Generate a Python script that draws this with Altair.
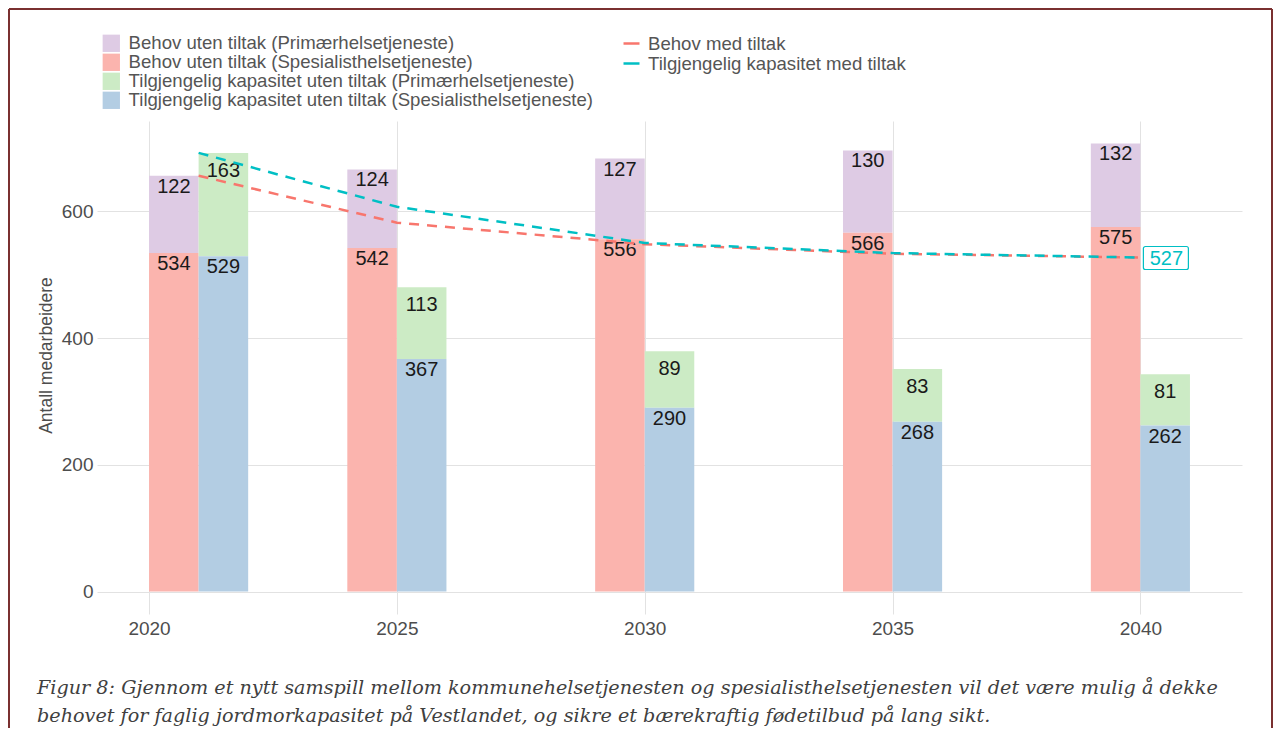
import altair as alt
import pandas as pd

# ---- data ----
years = [2021, 2025, 2030, 2035, 2040]
tick_years = [2020, 2025, 2030, 2035, 2040]
behov_prim = [122, 124, 127, 130, 132]
behov_spes = [534, 542, 556, 566, 575]
kap_prim = [163, 113, 89, 83, 81]
kap_spes = [529, 367, 290, 268, 262]
behov_med = [656, 582, 548, 533, 527]
kap_med = [692, 607, 550, 534, 527]

cat_names = [
    "Behov uten tiltak (Primærhelsetjeneste)",
    "Behov uten tiltak (Spesialisthelsetjeneste)",
    "Tilgjengelig kapasitet uten tiltak (Primærhelsetjeneste)",
    "Tilgjengelig kapasitet uten tiltak (Spesialisthelsetjeneste)",
]
cat_colors = ["#DECBE4", "#FBB4AE", "#CCEBC5", "#B3CDE3"]
line_names = ["Behov med tiltak", "Tilgjengelig kapasitet med tiltak"]
line_colors = ["#F8766D", "#00BFC4"]
y_ticks = [0, 200, 400, 600]
y_title = "Antall medarbeidere"
caption_lines = [
    "Figur 8: Gjennom et nytt samspill mellom kommunehelsetjenesten og spesialisthelsetjenesten vil det være mulig å dekke",
    "behovet for faglig jordmorkapasitet på Vestlandet, og sikre et bærekraftig fødetilbud på lang sikt.",
]

# ---- tables built from the arrays ----
rows = []
series = [
    (cat_names[0], 0, 1, behov_prim),
    (cat_names[1], 0, 0, behov_spes),
    (cat_names[2], 1, 1, kap_prim),
    (cat_names[3], 1, 0, kap_spes),
]
for name, side, order, vals in series:
    for yr, v in zip(years, vals):
        rows.append({"year": yr, "cat": name, "side": side, "order": order,
                     "value": v, "x0": yr - 1 + side, "x1": yr + side,
                     "xc": yr - 0.5 + side, "green": name == cat_names[2]})
bars_df = pd.DataFrame(rows)

line_rows = []
for name, vals in zip(line_names, [behov_med, kap_med]):
    for yr, v in zip(years, vals):
        line_rows.append({"year": yr, "series": name, "value": v})
lines_df = pd.DataFrame(line_rows)
end_df = lines_df[(lines_df.series == line_names[1]) & (lines_df.year == years[-1])]

one = pd.DataFrame({"k": [0]})

W, H = 1145, 493
FONT = "Liberation Sans"
xs = alt.Scale(domain=[2018.95, 2042.05], nice=False, zero=False)
ys = alt.Scale(domain=[-35.35, 742.35], nice=False, zero=False)

x_axis = alt.Axis(values=tick_years, format="d", grid=True, gridColor="#e2e2e2",
                  ticks=False, domain=False, labelFontSize=19, labelColor="#4d4d4d",
                  labelFont=FONT, labelPadding=5, title=None)
y_axis = alt.Axis(values=y_ticks, format="d", grid=True, gridColor="#e2e2e2",
                  ticks=False, domain=False, labelFontSize=19, labelColor="#4d4d4d",
                  labelFont=FONT, labelPadding=4, title=y_title, titleFont=FONT,
                  titleFontSize=17.5, titleFontWeight="normal", titleColor="#4d4d4d",
                  titleX=-42, titleY=234)

stacked = alt.Chart(bars_df).transform_stack(
    stack="value", as_=["y0", "y1"], groupby=["year", "side"],
    sort=[alt.SortField("order", order="ascending")]
)

bars = stacked.mark_rect().encode(
    x=alt.X("x0:Q", scale=xs, axis=x_axis),
    x2="x1:Q",
    y=alt.Y("y0:Q", scale=ys, axis=y_axis),
    y2="y1:Q",
    fill=alt.Fill("cat:N", scale=alt.Scale(domain=cat_names, range=cat_colors),
                  legend=alt.Legend(title=None, orient="none", legendX=5, legendY=-87,
                                    symbolType="square", symbolSize=300,
                                    symbolStrokeWidth=0, labelFontSize=18.6,
                                    labelColor="#555555", labelFont=FONT,
                                    labelLimit=800, rowPadding=0, labelOffset=8,
                                    padding=0)),
)

labels_main = stacked.transform_filter("!datum.green").mark_text(
    baseline="top", dy=1, fontSize=20, font=FONT, color="#1a1a1a"
).encode(x=alt.X("xc:Q", scale=xs), y=alt.Y("y1:Q", scale=ys), text="value:Q")

labels_green = stacked.transform_filter("datum.green").mark_text(
    baseline="top", dy=8, fontSize=20, font=FONT, color="#1a1a1a"
).encode(x=alt.X("xc:Q", scale=xs), y=alt.Y("y1:Q", scale=ys), text="value:Q")

lines = alt.Chart(lines_df).mark_line(strokeDash=[10, 8], strokeWidth=2.5).encode(
    x=alt.X("year:Q", scale=xs),
    y=alt.Y("value:Q", scale=ys),
    stroke=alt.Stroke("series:N", scale=alt.Scale(domain=line_names, range=line_colors),
                      legend=alt.Legend(title=None, orient="none", legendX=525, legendY=-87,
                                        symbolType="stroke", symbolSize=256,
                                        symbolStrokeWidth=2.5, symbolDash=[40, 1],
                                        labelFontSize=18.6, labelColor="#555555",
                                        labelFont=FONT, labelLimit=800, rowPadding=0,
                                        labelOffset=7, padding=0)),
)

end_box = alt.Chart(end_df).mark_rect(
    fill="white", stroke=line_colors[1], strokeWidth=1.2, cornerRadius=2,
    xOffset=3, x2Offset=48, yOffset=-11, y2Offset=12
).encode(x=alt.X("year:Q", scale=xs), x2="year:Q",
         y=alt.Y("value:Q", scale=ys), y2="value:Q")

end_label = alt.Chart(end_df).mark_text(
    align="center", baseline="middle", dx=26, dy=1, fontSize=20, font=FONT,
    color=line_colors[1]
).encode(x=alt.X("year:Q", scale=xs), y=alt.Y("value:Q", scale=ys), text="value:Q")

frame_color = "#7a3030"
frame_left = alt.Chart(one).mark_rule(color=frame_color, strokeWidth=2).encode(
    x=alt.value(-88), y=alt.value(-112), y2=alt.value(607))
frame_top = alt.Chart(one).mark_rule(color=frame_color, strokeWidth=2).encode(
    x=alt.value(-88), x2=alt.value(1175), y=alt.value(-112))
frame_right = alt.Chart(one).mark_rule(color=frame_color, strokeWidth=2).encode(
    x=alt.value(1175), y=alt.value(-112), y2=alt.value(607))

cap1 = alt.Chart(one).mark_text(
    align="left", baseline="alphabetic", font="DejaVu Serif", fontStyle="italic",
    fontSize=19.2, color="#404040"
).encode(x=alt.value(-60), y=alt.value(573), text=alt.value(caption_lines[0]))
cap2 = alt.Chart(one).mark_text(
    align="left", baseline="alphabetic", font="DejaVu Serif", fontStyle="italic",
    fontSize=19.2, color="#404040"
).encode(x=alt.value(-60), y=alt.value(601), text=alt.value(caption_lines[1]))

chart = alt.layer(
    bars, labels_main, labels_green, lines, end_box, end_label,
    frame_left, frame_top, frame_right, cap1, cap2
).resolve_scale(fill="independent", stroke="independent").properties(
    width=W, height=H, padding=0, background="white"
).configure_view(stroke=None)

chart.save("out.html", embed_options={"renderer": "svg", "actions": False})
